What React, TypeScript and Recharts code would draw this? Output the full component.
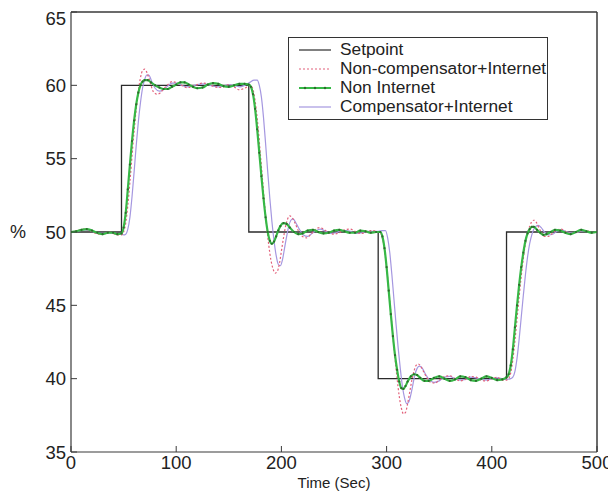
import React from "react";
import { LineChart, Line, XAxis, YAxis, Legend, CartesianGrid } from "recharts";

const xTicks = [0, 100, 200, 300, 400, 500];
const yTicks = [35, 40, 45, 50, 55, 60, 65];

const setpointT = [0, 48, 48, 169, 169, 292, 292, 414, 414, 500];
const setpointV = [50, 50, 60, 60, 50, 50, 40, 40, 50, 50];

const nonCompT = [0, 6, 12, 18, 24, 30, 36, 42, 46, 48, 50, 52, 54, 56, 58, 60, 62, 64, 66, 68, 70, 72, 74, 76, 78, 80, 82, 85, 88, 92, 96, 100, 105, 110, 115, 120, 125, 130, 135, 140, 145, 150, 155, 160, 165, 170, 172, 174, 176, 178, 180, 182, 184, 186, 188, 190, 192, 194, 196, 198, 200, 202, 204, 206, 208, 210, 213, 216, 220, 224, 228, 232, 236, 240, 245, 250, 255, 260, 265, 270, 275, 280, 285, 290, 292, 294, 296, 298, 300, 302, 304, 306, 308, 310, 312, 314, 316, 318, 320, 322, 324, 326, 328, 330, 332, 335, 338, 342, 346, 350, 355, 360, 365, 370, 375, 380, 385, 390, 395, 400, 405, 410, 414, 416, 418, 420, 422, 424, 426, 428, 430, 432, 434, 436, 438, 440, 442, 444, 447, 450, 454, 458, 462, 466, 470, 475, 480, 485, 490, 495, 500];
const nonCompV = [50.0, 50.1, 50.2, 50.1, 49.9, 49.85, 50.0, 49.85, 49.8, 49.8, 50.0, 50.6, 51.8, 53.4, 55.2, 56.9, 58.4, 59.6, 60.5, 61.0, 61.1, 60.9, 60.5, 60.0, 59.6, 59.45, 59.4, 59.5, 59.75, 60.05, 60.25, 60.2, 60.0, 59.85, 59.9, 60.05, 60.15, 60.1, 59.95, 59.85, 59.9, 60.05, 59.9, 59.7, 59.8, 60.0, 59.9, 59.4, 58.4, 57.0, 55.3, 53.6, 51.9, 50.4, 49.1, 48.1, 47.5, 47.2, 47.3, 47.8, 48.7, 49.6, 50.4, 50.9, 51.1, 51.0, 50.6, 50.1, 49.7, 49.6, 49.85, 50.15, 50.3, 50.2, 49.95, 49.85, 49.95, 50.15, 50.2, 50.05, 49.9, 49.95, 50.1, 50.05, 50.0, 49.95, 49.6, 48.8, 47.6, 46.1, 44.5, 42.9, 41.4, 40.0, 38.8, 38.0, 37.6, 37.7, 38.3, 39.1, 39.9, 40.5, 40.9, 41.0, 40.9, 40.5, 40.1, 39.75, 39.7, 39.9, 40.15, 40.2, 40.0, 39.85, 39.95, 40.15, 40.1, 39.9, 39.85, 40.0, 40.1, 39.9, 39.9, 40.0, 40.4, 41.3, 42.6, 44.1, 45.6, 47.0, 48.2, 49.2, 49.9, 50.4, 50.7, 50.8, 50.7, 50.4, 50.0, 49.7, 49.7, 49.95, 50.15, 50.2, 50.05, 49.9, 49.95, 50.1, 50.1, 49.95, 50.0];

const nonInternetT = [0, 5, 10, 15, 20, 25, 30, 35, 40, 44, 48, 50, 52, 54, 56, 58, 60, 62, 64, 66, 68, 70, 73, 76, 80, 84, 88, 92, 96, 100, 104, 108, 112, 116, 120, 125, 130, 135, 140, 145, 150, 155, 160, 165, 169, 171, 173, 175, 177, 179, 181, 183, 185, 187, 189, 191, 193, 195, 197, 199, 202, 205, 208, 212, 216, 220, 225, 230, 235, 240, 245, 250, 255, 260, 265, 270, 275, 280, 285, 290, 294, 296, 298, 300, 302, 304, 306, 308, 310, 312, 314, 316, 318, 320, 323, 326, 329, 332, 336, 340, 345, 350, 355, 360, 365, 370, 375, 380, 385, 390, 395, 400, 405, 410, 414, 416, 418, 420, 422, 424, 426, 428, 430, 432, 434, 436, 438, 440, 443, 446, 449, 452, 456, 460, 465, 470, 475, 480, 485, 490, 495, 500];
const nonInternetV = [50.0, 50.05, 50.15, 50.2, 50.1, 49.95, 49.85, 49.95, 49.95, 49.85, 49.9, 50.3, 51.3, 52.9, 54.6, 56.2, 57.6, 58.7, 59.5, 60.0, 60.25, 60.35, 60.35, 60.2, 60.0, 59.85, 59.75, 59.75, 59.9, 60.05, 60.2, 60.2, 60.05, 59.9, 59.8, 59.85, 60.05, 60.15, 60.1, 59.95, 59.9, 60.0, 60.1, 60.1, 60.05, 59.9, 59.4, 58.4, 57.0, 55.4, 53.8, 52.3, 51.0, 50.0, 49.4, 49.2, 49.35, 49.7, 50.1, 50.4, 50.6, 50.55, 50.3, 50.0, 49.85, 49.9, 50.1, 50.15, 50.0, 49.9, 49.95, 50.1, 50.15, 50.05, 49.95, 49.95, 50.1, 50.05, 49.95, 50.0, 50.0, 49.7, 48.9, 47.6, 46.0, 44.4, 42.9, 41.6, 40.6, 39.8, 39.35, 39.3, 39.5, 39.8, 40.15, 40.3, 40.25, 40.05, 39.85, 39.85, 40.05, 40.15, 40.0, 39.85, 39.95, 40.15, 40.1, 39.9, 39.85, 40.0, 40.15, 40.05, 39.9, 39.95, 40.1, 40.3, 40.9, 42.0, 43.5, 45.0, 46.4, 47.6, 48.6, 49.4, 49.9, 50.2, 50.35, 50.35, 50.15, 49.95, 49.8, 49.85, 50.0, 50.15, 50.1, 49.95, 49.85, 50.0, 50.15, 50.05, 49.95, 50.0];

const compT = [0, 6, 12, 18, 24, 30, 36, 42, 48, 50, 52, 54, 56, 58, 60, 62, 64, 66, 68, 70, 72, 74, 76, 78, 80, 84, 88, 92, 96, 100, 105, 110, 115, 120, 125, 130, 135, 140, 145, 150, 155, 160, 165, 170, 174, 177, 179, 181, 183, 185, 187, 189, 191, 193, 195, 197, 199, 201, 203, 205, 207, 209, 211, 214, 217, 221, 225, 229, 233, 237, 242, 247, 252, 257, 262, 267, 272, 277, 282, 287, 292, 296, 299, 301, 303, 305, 307, 309, 311, 313, 315, 317, 319, 321, 323, 325, 327, 329, 331, 334, 337, 341, 345, 350, 355, 360, 365, 370, 375, 380, 385, 390, 395, 400, 405, 410, 414, 418, 420, 422, 424, 426, 428, 430, 432, 434, 436, 438, 440, 442, 444, 447, 450, 454, 458, 462, 466, 470, 475, 480, 485, 490, 495, 500];
const compV = [50.0, 50.05, 50.15, 50.1, 49.95, 49.9, 49.95, 49.9, 49.85, 49.8, 49.85, 50.2, 51.0, 52.4, 54.1, 55.9, 57.5, 58.8, 59.8, 60.4, 60.7, 60.7, 60.4, 60.05, 59.8, 59.6, 59.7, 59.95, 60.15, 60.15, 60.0, 59.9, 59.95, 60.05, 60.1, 60.05, 59.95, 59.9, 59.95, 60.05, 60.0, 59.9, 60.0, 60.2, 60.35, 60.35, 60.0, 59.2, 57.8, 56.0, 54.1, 52.3, 50.7, 49.4, 48.4, 47.8, 47.7, 48.1, 48.9, 49.7, 50.4, 50.8, 50.9, 50.6, 50.2, 49.8, 49.7, 49.9, 50.1, 50.2, 50.05, 49.9, 49.95, 50.1, 50.1, 50.0, 49.9, 49.95, 50.05, 50.05, 50.05, 50.1, 50.1, 49.6, 48.6, 47.1, 45.4, 43.7, 42.1, 40.7, 39.5, 38.7, 38.3, 38.4, 38.9, 39.6, 40.3, 40.7, 40.85, 40.7, 40.3, 39.9, 39.75, 39.85, 40.1, 40.15, 40.0, 39.9, 39.95, 40.1, 40.05, 39.95, 39.9, 40.0, 40.05, 40.0, 39.95, 40.0, 40.1, 40.5, 41.4, 42.7, 44.2, 45.7, 47.1, 48.3, 49.2, 49.8, 50.2, 50.4, 50.45, 50.3, 50.0, 49.8, 49.85, 50.05, 50.15, 50.05, 49.95, 49.95, 50.05, 50.05, 49.95, 50.0];

const zip = (ts: number[], vs: number[]) => ts.map((t, i) => ({ t, v: vs[i] }));

const setpointData = zip(setpointT, setpointV);
const nonCompData = zip(nonCompT, nonCompV);
const nonInternetData = zip(nonInternetT, nonInternetV);
const compData = zip(compT, compV);

const COLORS = {
  setpoint: "#2b2b2b",
  nonComp: "#e2607a",
  nonInternet: "#36b846",
  comp: "#a597e0",
};

const FONT = "'Liberation Sans', Arial, sans-serif";
const AXIS_COLOR = "#3a3a3a";

const CHART_W = 616;
const CHART_H = 486;
const MARGIN = { top: 4, right: 27, left: 0, bottom: 6 };
const Y_AXIS_W = 63;
const X_AXIS_H = 36;
const X_DOMAIN = [0, 500];
const Y_DOMAIN = [35, 65];

const PLOT_LEFT = MARGIN.left + Y_AXIS_W;
const PLOT_TOP = MARGIN.top;

const legendItems = [
  { label: "Setpoint", color: COLORS.setpoint, dash: undefined as string | undefined, width: 1.2, dots: false },
  { label: "Non-compensator+Internet", color: COLORS.nonComp, dash: "2 2", width: 1.2, dots: false },
  { label: "Non Internet", color: COLORS.nonInternet, dash: undefined, width: 2, dots: true },
  { label: "Compensator+Internet", color: COLORS.comp, dash: undefined, width: 1.2, dots: false },
];

const LegendBox = () => (
  <div
    style={{
      border: "1.5px solid #333",
      background: "#fff",
      width: 260,
      height: 83,
      boxSizing: "border-box",
      padding: "2px 0 0 8px",
      fontFamily: FONT,
      fontSize: 17.3,
      color: "#222",
    }}
  >
    {legendItems.map((it) => (
      <div key={it.label} style={{ display: "flex", alignItems: "center", height: 19 }}>
        <svg width={40} height={10} style={{ marginRight: 3 }}>
          <line x1={2} x2={34} y1={5} y2={5} stroke={it.color} strokeWidth={it.width} strokeDasharray={it.dash} />
          {it.dots && [8, 18, 28].map((x) => <circle key={x} cx={x} cy={5} r={1.2} fill="#2d6b2d" />)}
        </svg>
        <span style={{ lineHeight: "19px", whiteSpace: "nowrap" }}>{it.label}</span>
      </div>
    ))}
  </div>
);

// Grid lines only at the top and right edges of the plot: the remaining two sides of the MATLAB box.
const topEdge = ({ offset }: any) => [offset.top];
const rightEdge = ({ offset }: any) => [offset.left + offset.width];

export default function App() {
  return (
    <div style={{ width: CHART_W, height: CHART_H, background: "#fff" }}>
      <LineChart width={CHART_W} height={CHART_H} margin={MARGIN}>
        <CartesianGrid
          stroke={AXIS_COLOR}
          strokeWidth={1.5}
          strokeDasharray="0"
          horizontalCoordinatesGenerator={topEdge}
          verticalCoordinatesGenerator={rightEdge}
          syncWithTicks={false}
        />
        <XAxis
          dataKey="t"
          type="number"
          domain={X_DOMAIN}
          ticks={xTicks}
          allowDataOverflow
          height={X_AXIS_H}
          tickSize={-6}
          tickMargin={10}
          axisLine={{ stroke: AXIS_COLOR, strokeWidth: 1.2 }}
          tickLine={{ stroke: AXIS_COLOR }}
          tick={{ fill: "#222", fontSize: 18.5, fontFamily: FONT }}
          label={{ value: "Time (Sec)", position: "insideBottom", offset: 0, fill: "#222", fontSize: 15, fontFamily: FONT }}
        />
        <YAxis
          type="number"
          domain={Y_DOMAIN}
          ticks={yTicks}
          allowDataOverflow
          width={Y_AXIS_W}
          tickSize={-6}
          tickMargin={11}
          axisLine={{ stroke: AXIS_COLOR, strokeWidth: 1.2 }}
          tickLine={{ stroke: AXIS_COLOR }}
          tick={{ fill: "#222", fontSize: 18.5, fontFamily: FONT }}
          label={{ value: "%", position: "insideLeft", offset: 2, fill: "#222", fontSize: 18, fontFamily: FONT }}
        />
        <Line
          data={setpointData}
          dataKey="v"
          type="linear"
          stroke={COLORS.setpoint}
          strokeWidth={1.3}
          dot={false}
          isAnimationActive={false}
          name="Setpoint"
        />
        <Line
          data={compData}
          dataKey="v"
          type="monotone"
          stroke={COLORS.comp}
          strokeWidth={1.2}
          dot={false}
          isAnimationActive={false}
          name="Compensator+Internet"
        />
        <Line
          data={nonCompData}
          dataKey="v"
          type="monotone"
          stroke={COLORS.nonComp}
          strokeWidth={1.2}
          strokeDasharray="2 2"
          dot={false}
          isAnimationActive={false}
          name="Non-compensator+Internet"
        />
        <Line
          data={nonInternetData}
          dataKey="v"
          type="monotone"
          stroke={COLORS.nonInternet}
          strokeWidth={2.2}
          dot={{ r: 1.1, fill: "#2d6b2d", stroke: "none", strokeWidth: 0 }}
          isAnimationActive={false}
          name="Non Internet"
        />
        <Legend
          layout="vertical"
          align="center"
          verticalAlign="middle"
          content={() => <LegendBox />}
          wrapperStyle={{ position: "absolute", left: 280, top: 29, width: 260, height: 83 }}
        />
      </LineChart>
    </div>
  );
}
